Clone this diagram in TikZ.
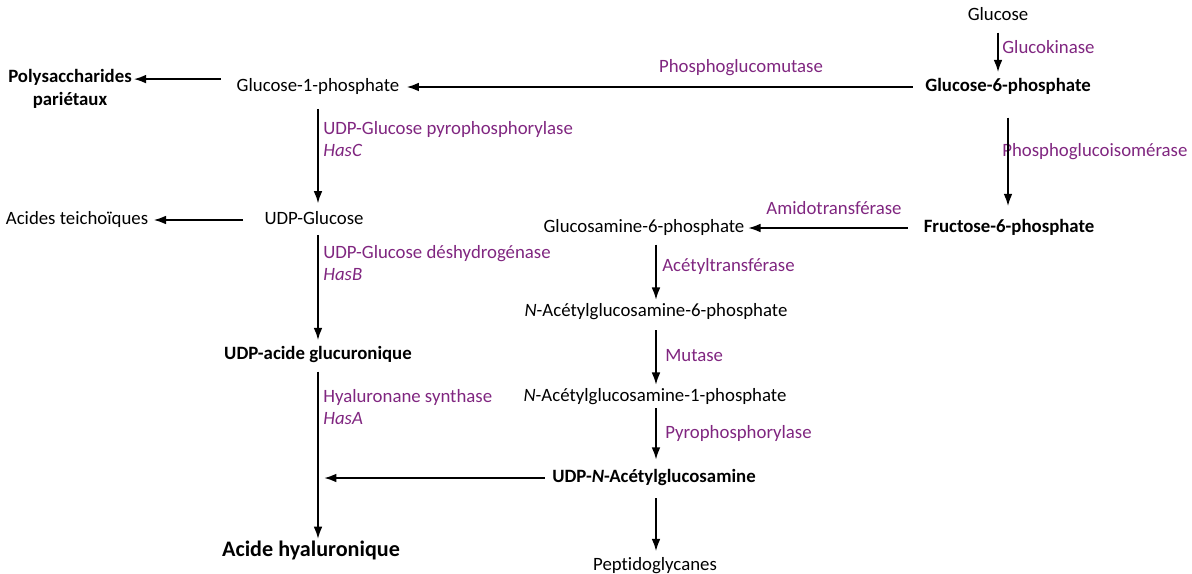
\documentclass[tikz,border=0pt]{standalone}
\usepackage{fontspec}
\setmainfont{Carlito}[Ligatures=NoCommon]
\usetikzlibrary{arrows.meta}

\definecolor{enzyme}{RGB}{128,38,128}

\tikzset{
  pathway/.style={
    x=0.02cm, y=-0.02cm,
    font=\fontsize{10.7}{13}\selectfont,
    every node/.style={inner sep=0pt},
    met/.style={text height=8pt, text depth=2.5pt},
    key/.style={met, font=\fontsize{10.7}{13}\selectfont\bfseries},
    enz/.style={text=enzyme, anchor=west, align=left, font=\fontsize{10.7}{12.5}\selectfont},
    react/.style={-{Latex[length=7pt,width=5pt]}, line width=1pt, shorten <=4pt, shorten >=3pt},
  }
}

\begin{document}
\begin{tikzpicture}[pathway]
  \useasboundingbox (0,0) rectangle (1192,574);

  % glycolyse
  \node[met] (glc) at (998,16) {Glucose};
  \node[key] (g6p) at (1008,87) {Glucose-6-phosphate};
  \node[key] (f6p) at (1009,228) {Fructose-6-phosphate};

  % voie de l'acide glucuronique
  \node[met] (g1p) at (318,87) {Glucose-1-phosphate};
  \node[font=\fontsize{10.7}{13}\selectfont\bfseries, align=center] (poly) at (70,89) {Polysaccharides\\pariétaux};
  \node[met] (udpg) at (314,220) {UDP-Glucose};
  \node[met] (teich) at (77,220) {Acides teichoïques};
  \node[key] (udpga) at (318,355) {UDP-acide glucuronique};
  \node[met, font=\fontsize{12.6}{15}\selectfont\bfseries] (ah) at (311,552) {Acide hyaluronique};

  % voie de la N-acetylglucosamine
  \node[met] (gln6p) at (644,228) {Glucosamine-6-phosphate};
  \node[met] (nac6p) at (656,312) {\textit{N}-Acétylglucosamine-6-phosphate};
  \node[met] (nac1p) at (655,397) {\textit{N}-Acétylglucosamine-1-phosphate};
  \node[key] (udpnac) at (654,478) {UDP-\textit{N}-Acétylglucosamine};
  \node[met] (pg) at (655,566) {Peptidoglycanes};

  % enzymes
  \node[enz] (gk) at (1002,47) {Glucokinase};
  \node[enz, anchor=center] (pgm) at (741,68) {Phosphoglucomutase};
  \node[enz] (pgi) at (1002,152) {Phosphoglucoisomérase};
  \node[enz, anchor=center] (amt) at (834,208) {Amidotransférase};
  \node[enz] (act) at (662,266) {Acétyltransférase};
  \node[enz] (mut) at (665,356) {Mutase};
  \node[enz] (ppl) at (665,433) {Pyrophosphorylase};
  \node[enz] (hasc) at (323,139) {UDP-Glucose pyrophosphorylase\\\textit{HasC}};
  \node[enz] (hasb) at (323,263) {UDP-Glucose déshydrogénase\\\textit{HasB}};
  \node[enz] (hasa) at (323,407) {Hyaluronane synthase\\\textit{HasA}};

  % reactions
  \draw[react] (glc.south) -- (glc.south |- g6p.north);
  \draw[react, shorten <=12pt, shorten >=7pt] (g6p.south) -- (g6p.south |- f6p.north);
  \draw[react, shorten <=7pt, shorten >=4pt] (g6p.west) -- (g6p.west -| g1p.east);
  \draw[react, shorten <=9pt, shorten >=1pt] ([yshift=4.5pt]g1p.west) -- ([yshift=4.5pt]g1p.west -| poly.east);
  \draw[react, shorten <=7pt, shorten >=4pt] (g1p.south) -- (g1p.south |- udpg.north);
  \draw[react, shorten <=12pt, shorten >=3pt] (udpg.west) -- (teich.east);
  \draw[react, shorten <=3pt, shorten >=3pt] (g1p.south |- udpg.south) -- (g1p.south |- udpga.north);
  \draw[react, shorten <=4pt, shorten >=2pt] (g1p.south |- udpga.south) -- (g1p.south |- ah.north) coordinate (hasaline);
  \draw[react, shorten <=9pt, shorten >=2pt] (f6p.west) -- (gln6p.east);
  \draw[react, shorten <=4pt, shorten >=1.5pt] (nac6p.north |- gln6p.south) -- (nac6p.north);
  \draw[react, shorten <=5pt, shorten >=1.5pt] (nac6p.south) -- (nac6p.south |- nac1p.north);
  \draw[react, shorten <=1pt, shorten >=5pt] (nac6p.south |- nac1p.south) -- (nac6p.south |- udpnac.north);
  \draw[react, shorten <=6pt, shorten >=3pt] (nac6p.south |- udpnac.south) -- (nac6p.south |- pg.north);
  \draw[react, shorten <=4pt, shorten >=3.5pt] (udpnac.west) -- (udpnac.west -| hasaline);
\end{tikzpicture}
\end{document}
